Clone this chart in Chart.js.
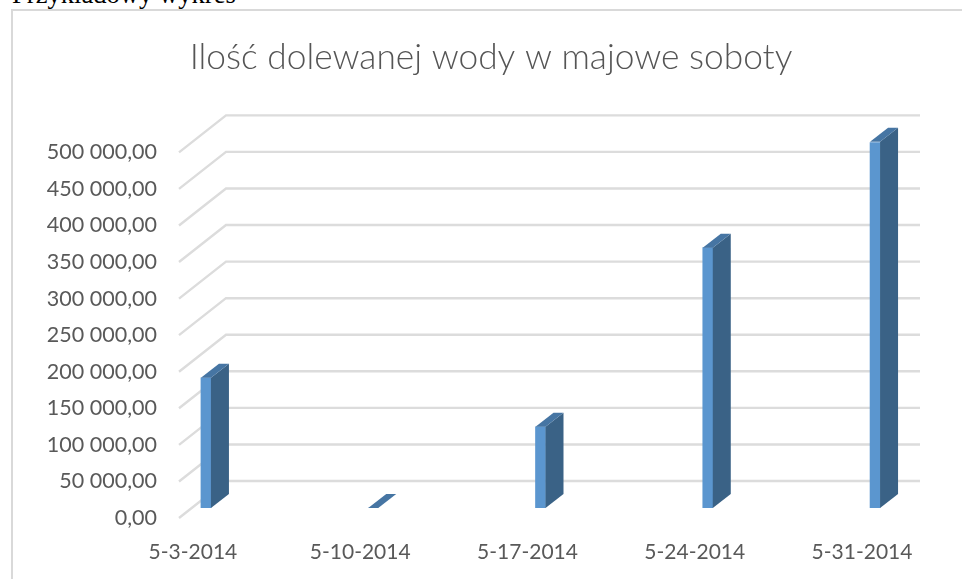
<!DOCTYPE html>
<html>
<head>
<meta charset="utf-8">
<script src="https://cdn.jsdelivr.net/npm/chart.js@4"></script>
<style>
  html, body { margin: 0; padding: 0; background: #fff; overflow: hidden; }
  #caption { position: absolute; left: 12px; top: -21px; font: 26.6px "Liberation Serif", serif; color: #000; white-space: nowrap; }
  #frame { position: absolute; left: 11px; top: 9px; width: 1000px; height: 620px; border: 2px solid #d9d9d9; box-sizing: border-box; }
  #wrap { position: absolute; left: 20px; top: 0; width: 942px; height: 579px; }
</style>
</head>
<body>
<div id="caption">Przykładowy wykres</div>
<div id="frame"></div>
<div id="wrap"><canvas id="myChart"></canvas></div>
<script>
// Data
const categories = ['5-3-2014', '5-10-2014', '5-17-2014', '5-24-2014', '5-31-2014'];
const days = [3, 10, 17, 24, 31];
const water = [178000, 0, 111000, 356000, 501000];
const valueTicks = [0, 50000, 100000, 150000, 200000, 250000, 300000, 350000, 400000, 450000, 500000];
const chartTitle = 'Ilość dolewanej wody w majowe soboty';

// Excel style 3D look: back wall offset and bar depth
const wall = { dx: 47, dy: -37 };
const barFront = { dx: 13, dy: -10 };
const barDepth = { dx: 18, dy: -14 };

const formatValue = v => v.toLocaleString('pl-PL', { minimumFractionDigits: 2, maximumFractionDigits: 2, useGrouping: true })
  .replace(/\s/g, ' ');

const walls3d = {
  id: 'walls3d',
  afterLayout(chart) {
    // title centres on the whole canvas, not on the box left over by the right padding
    chart.titleBlock.right = chart.width;
  },
  beforeDatasetsDraw(chart) {
    const { ctx, chartArea, scales } = chart;
    ctx.save();
    ctx.strokeStyle = '#dcdcdc';
    ctx.lineWidth = 2.4;
    valueTicks.forEach(v => {
      const y = scales.y.getPixelForValue(v);
      ctx.beginPath();
      ctx.moveTo(chartArea.left - 2, y);
      ctx.lineTo(chartArea.left - 2 + wall.dx, y + wall.dy);
      ctx.lineTo(chartArea.right + wall.dx - 1, y + wall.dy);
      ctx.stroke();
    });
    ctx.restore();
    // front faces get drawn by the bar controller, shifted into the depth of the box
    ctx.save();
    ctx.translate(barFront.dx, barFront.dy);
  },
  afterDatasetsDraw(chart) {
    const { ctx } = chart;
    chart.getDatasetMeta(0).data.forEach(bar => {
      const l = bar.x - bar.width / 2;
      const r = bar.x + bar.width / 2;
      // side
      ctx.fillStyle = '#3a6286';
      ctx.beginPath();
      ctx.moveTo(r, bar.y);
      ctx.lineTo(r + barDepth.dx, bar.y + barDepth.dy);
      ctx.lineTo(r + barDepth.dx, bar.base + barDepth.dy);
      ctx.lineTo(r, bar.base);
      ctx.closePath();
      ctx.fill();
      // top
      ctx.fillStyle = '#4675a3';
      ctx.beginPath();
      ctx.moveTo(l, bar.y);
      ctx.lineTo(l + barDepth.dx, bar.y + barDepth.dy);
      ctx.lineTo(r + barDepth.dx, bar.y + barDepth.dy);
      ctx.lineTo(r, bar.y);
      ctx.closePath();
      ctx.fill();
    });
    ctx.restore();
  }
};

const ctx = document.getElementById('myChart').getContext('2d');
new Chart(ctx, {
  type: 'bar',
  data: {
    datasets: [{
      label: 'Woda',
      data: days.map((d, i) => ({ x: d, y: water[i] })),
      backgroundColor: '#5b96cf',
      borderWidth: 0,
      barThickness: 10
    }]
  },
  plugins: [walls3d],
  options: {
    responsive: true,
    maintainAspectRatio: false,
    animation: false,
    layout: { padding: { left: 0, right: 88, top: 0, bottom: 0 } },
    plugins: {
      legend: { display: false },
      tooltip: { enabled: false },
      title: {
        display: true,
        text: chartTitle,
        color: '#555555',
        font: { family: 'Lato', size: 35.3, weight: '300' },
        padding: { top: 36, bottom: 74 }
      }
    },
    scales: {
      x: {
        type: 'linear',
        offset: false,
        min: 2.5,
        max: 31.5,
        grid: { display: false },
        border: { display: false },
        afterBuildTicks: scale => { scale.ticks = days.map(d => ({ value: d })); },
        afterFit: scale => { scale.height = 61; },
        ticks: {
          autoSkip: false,
          maxRotation: 0,
          padding: 14,
          color: '#595959',
          font: { family: 'Lato', size: 21 },
          callback: v => categories[days.indexOf(v)]
        }
      },
      y: {
        min: 0,
        max: 500000,
        grid: { display: false },
        border: { display: false },
        afterBuildTicks: scale => { scale.ticks = valueTicks.map(v => ({ value: v })); },
        afterFit: scale => { scale.width = 161; },
        ticks: {
          padding: 16,
          color: '#595959',
          font: { family: 'Lato', size: 21.5 },
          callback: v => formatValue(v)
        }
      }
    }
  }
});
</script>
</body>
</html>
